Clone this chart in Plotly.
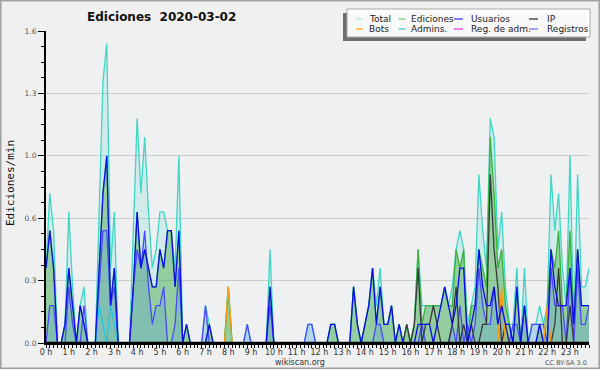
import plotly.graph_objects as go

# ---- data: edits per minute, one value per 10-minute slot (144 slots, 00:00 .. 23:50)
total = [
    0.4, 0.8, 0.6, 0, 0, 0.1,
    0.7, 0.3, 0, 0.2, 0.3, 0,
    0, 0, 0.7, 1.4, 1.6, 0.4,
    0.7, 0, 0, 0, 0, 0.6,
    1.2, 0.8, 1.1, 0.7, 0.4, 0.5,
    0.7, 0.7, 0.6, 0.6, 0.4, 1.0,
    0, 0.1, 0, 0, 0, 0,
    0.2, 0.1, 0, 0, 0, 0,
    0.3, 0, 0, 0, 0, 0.1,
    0, 0, 0, 0, 0, 0.5,
    0, 0, 0, 0, 0, 0,
    0, 0, 0, 0.1, 0.1, 0,
    0, 0, 0, 0.1, 0.1, 0,
    0, 0, 0, 0.3, 0.1, 0,
    0.1, 0.2, 0.4, 0.2, 0.4, 0.1,
    0.1, 0.2, 0, 0.1, 0, 0.1,
    0, 0.1, 0.5, 0.2, 0.2, 0.2,
    0.2, 0.2, 0.2, 0.3, 0.2, 0.3,
    0.5, 0.6, 0.5, 0.1, 0.2, 0.3,
    0.9, 0.6, 0.4, 1.2, 1.1, 0.5,
    0.7, 0.3, 0.1, 0.1, 0.4, 0,
    0.4, 0, 0.1, 0.1, 0.2, 0.1,
    0.2, 0.9, 0.6, 0.8, 0.4, 0.2,
    1.0, 0.1, 0.9, 0.3, 0.3, 0.4,
]
ediciones = [
    0.4, 0.6, 0.4, 0, 0, 0.1,
    0.4, 0.2, 0, 0.2, 0.1, 0,
    0, 0, 0.4, 0.8, 1.0, 0.2,
    0.4, 0, 0, 0, 0, 0.3,
    0.7, 0.4, 0.5, 0.4, 0.3, 0.3,
    0.5, 0.4, 0.6, 0.6, 0.3, 0.6,
    0, 0.1, 0, 0, 0, 0,
    0, 0.1, 0, 0, 0, 0,
    0.3, 0, 0, 0, 0, 0,
    0, 0, 0, 0, 0, 0.3,
    0, 0, 0, 0, 0, 0,
    0, 0, 0, 0, 0, 0,
    0, 0, 0, 0.1, 0.1, 0,
    0, 0, 0, 0.3, 0.1, 0,
    0.1, 0.2, 0.4, 0.1, 0.3, 0.1,
    0.1, 0.2, 0, 0.1, 0, 0.1,
    0, 0.1, 0.5, 0.1, 0.2, 0.2,
    0.2, 0.2, 0.2, 0.3, 0.2, 0.2,
    0.5, 0.4, 0.5, 0, 0.2, 0.2,
    0.5, 0.4, 0.3, 1.1, 0.8, 0.4,
    0.5, 0.2, 0.1, 0, 0.3, 0,
    0.2, 0, 0, 0, 0.1, 0,
    0.2, 0.5, 0.4, 0.6, 0.2, 0.2,
    0.6, 0.1, 0.5, 0.2, 0.2, 0.2,
]
usuarios = [
    0.4, 0.6, 0.4, 0, 0, 0.1,
    0.4, 0.2, 0, 0.2, 0.1, 0,
    0, 0, 0.4, 0.8, 1.0, 0.2,
    0.4, 0, 0, 0, 0, 0.3,
    0.7, 0.4, 0.5, 0.4, 0.3, 0.3,
    0.5, 0.4, 0.6, 0.6, 0.3, 0.6,
    0, 0.1, 0, 0, 0, 0,
    0, 0.1, 0, 0, 0, 0,
    0, 0, 0, 0, 0, 0,
    0, 0, 0, 0, 0, 0.3,
    0, 0, 0, 0, 0, 0,
    0, 0, 0, 0, 0, 0,
    0, 0, 0, 0.1, 0.1, 0,
    0, 0, 0, 0.3, 0.1, 0,
    0.1, 0.2, 0.4, 0.1, 0.3, 0.1,
    0.1, 0.2, 0, 0.1, 0, 0,
    0, 0, 0.1, 0.1, 0.1, 0.1,
    0, 0.1, 0.2, 0.3, 0.2, 0.1,
    0.2, 0.4, 0.4, 0, 0.1, 0.2,
    0.5, 0.3, 0.2, 0.2, 0.3, 0.1,
    0.2, 0.1, 0.1, 0, 0.3, 0,
    0.2, 0, 0, 0, 0.1, 0,
    0, 0.5, 0.3, 0.2, 0.2, 0.2,
    0.4, 0.1, 0.5, 0.2, 0.2, 0.2,
]
ip = [0] * 90 + [
    0, 0, 0, 0, 0, 0.1,
    0, 0.1, 0.4, 0, 0.1, 0.1,
    0.2, 0.1, 0, 0, 0, 0.1,
    0.3, 0, 0.1, 0, 0.1, 0,
    0, 0.1, 0.1, 0.9, 0.5, 0.3,
    0, 0.1, 0, 0, 0, 0,
    0, 0, 0, 0, 0, 0,
    0, 0, 0.1, 0.4, 0, 0,
    0.2, 0, 0, 0, 0, 0,
]
bots = [0] * 144
bots[48] = 0.3
bots[120] = 0.3
bots[132] = 0.2
admins = [0] * 144
admins[14:19] = [0.2, 0.1, 0, 0.2, 0.1]
reg_adm = [0] * 144
registros = [
    0, 0.2, 0.2, 0, 0, 0,
    0.3, 0.1, 0, 0, 0.2, 0,
    0, 0, 0.3, 0.6, 0.6, 0.2,
    0.3, 0, 0, 0, 0, 0.3,
    0.5, 0.4, 0.6, 0.3, 0.1, 0.2,
    0.2, 0.3, 0, 0, 0.1, 0.4,
    0, 0, 0, 0, 0, 0,
    0.2, 0, 0, 0, 0, 0,
    0, 0, 0, 0, 0, 0.1,
    0, 0, 0, 0, 0, 0.2,
    0, 0, 0, 0, 0, 0,
    0, 0, 0, 0.1, 0.1, 0,
    0, 0, 0, 0, 0, 0,
    0, 0, 0, 0, 0, 0,
    0, 0, 0, 0.1, 0.1, 0,
    0, 0, 0, 0, 0, 0,
    0, 0, 0, 0.1, 0, 0,
    0, 0, 0, 0, 0, 0.1,
    0, 0.2, 0, 0.1, 0, 0.1,
    0.4, 0.2, 0.1, 0.1, 0.3, 0.1,
    0.2, 0.1, 0, 0.1, 0.1, 0,
    0.2, 0, 0.1, 0.1, 0.1, 0.1,
    0, 0.4, 0.2, 0.2, 0.2, 0,
    0.4, 0, 0.4, 0.1, 0.1, 0.2,
]

hour_labels = [f"{h} h" for h in range(24)]
y_tick_vals = [0, 1 / 3, 2 / 3, 1, 4 / 3, 5 / 3]
y_tick_text = ["0.0", "0.3", "0.6", "1.0", "1.3", "1.6"]

legend_items = [
    ("Total", "#a8ecea"), ("Ediciones", "#80d080"), ("Usuarios", "#3c3cf0"), ("IP", "#333333"),
    ("Bots", "#ffa020"), ("Admins.", "#40d4e4"), ("Reg. de adm.", "#e040f0"), ("Registros", "#7878ff"),
]

# slot times in hours
hours = [i / 6 for i in range(len(total))]
x_end = hours[-1]

W, H = 600, 370
ML, MR, MT, MB = 46, 11, 31, 27
PW, PH = W - ML - MR, H - MT - MB


def px(x):
    return (x - ML) / PW


def py(y):
    return (H - MB - y) / PH


fig = go.Figure()


def area(y, fillcolor, linecolor, name):
    fig.add_trace(go.Scatter(x=hours, y=y, mode="lines", fill="tozeroy", fillcolor=fillcolor,
                             line=dict(color=linecolor, width=1.3), name=name, showlegend=False))


def line(y, color, name, width=1.3):
    fig.add_trace(go.Scatter(x=hours, y=y, mode="lines", line=dict(color=color, width=width),
                             name=name, showlegend=False))


area(total, "rgba(64,208,192,0.16)", "#3fd6c6", "Total")
area(ediciones, "rgba(70,170,70,0.45)", "#3cb43c", "Ediciones")
area(registros, "rgba(72,139,232,0.22)", "#4a4aff", "Registros")
line(reg_adm, "#e040f0", "Reg. de adm.")
line(ip, "#3a3a3a", "IP")
line(bots, "#ff9a10", "Bots")
line(admins, "#22c4e0", "Admins.")
line(usuarios, "#0c0cec", "Usuarios")

shapes = []
annotations = []

# black baseline over the zero level (hides lines resting on 0)
shapes.append(dict(type="line", xref="x", yref="y", x0=0, x1=x_end, y0=0, y1=0,
                   line=dict(color="#000", width=2.5), layer="above"))
# outer frame
shapes.append(dict(type="rect", xref="paper", yref="paper", x0=px(0.75), x1=px(599.25),
                   y0=py(0.75), y1=py(368.25), line=dict(color="#a0a0a0", width=1.5)))
# legend shadow + box
shapes.append(dict(type="rect", xref="paper", yref="paper", x0=px(343), x1=px(586),
                   y0=py(13), y1=py(41), fillcolor="#6e6e6e", line=dict(width=0), layer="above"))
shapes.append(dict(type="rect", xref="paper", yref="paper", x0=px(347), x1=px(590),
                   y0=py(9), y1=py(37), fillcolor="rgba(255,255,255,0.95)",
                   line=dict(color="#a8a8a8", width=1), layer="above"))
col_sw = [(356, 362.5), (398.5, 405.5), (454, 463), (529, 538)]
col_tx = [366.5, 408.5, 469, 545]
row_y = [19, 29]
for k, (name, color) in enumerate(legend_items):
    r, c = divmod(k, 4)
    shapes.append(dict(type="line", xref="paper", yref="paper", x0=px(col_sw[c][0]), x1=px(col_sw[c][1]),
                       y0=py(row_y[r]), y1=py(row_y[r]), line=dict(color=color, width=1.3), layer="above"))
    annotations.append(dict(xref="paper", yref="paper", x=px(col_tx[c]), y=py(row_y[r]), text=name,
                            showarrow=False, xanchor="left", yanchor="middle",
                            font=dict(family="DejaVu Sans", size=9, color="#222")))

annotations.append(dict(xref="paper", yref="paper", x=px(85), y=py(17), text="<b>Ediciones  2020-03-02</b>",
                        showarrow=False, xanchor="left", yanchor="middle",
                        font=dict(family="DejaVu Sans", size=12, color="#111")))
annotations.append(dict(xref="paper", yref="paper", x=px(10), y=py(183), text="Ediciones/min",
                        textangle=-90, showarrow=False, xanchor="center", yanchor="middle",
                        font=dict(family="DejaVu Sans Mono", size=11, color="#111")))
annotations.append(dict(xref="paper", yref="paper", x=px(300), y=py(362.5), text="wikiscan.org",
                        showarrow=False, xanchor="center", yanchor="middle",
                        font=dict(family="DejaVu Sans", size=8, color="#333")))
annotations.append(dict(xref="paper", yref="paper", x=px(589), y=py(363), text="CC BY-SA 3.0",
                        showarrow=False, xanchor="right", yanchor="middle",
                        font=dict(family="DejaVu Sans", size=6.5, color="#555")))

fig.update_layout(
    width=W, height=H, margin=dict(l=ML, r=MR, t=MT, b=MB, pad=0),
    paper_bgcolor="#f0f0f0", plot_bgcolor="#eef0f2",
    showlegend=False, shapes=shapes, annotations=annotations,
    font=dict(family="DejaVu Sans", size=8, color="#333"),
    xaxis=dict(range=[0, x_end], tickmode="array", tickvals=list(range(24)), ticktext=hour_labels,
               ticks="outside", ticklen=3, tickwidth=1, tickcolor="#000", showgrid=False, zeroline=False,
               showline=True, linecolor="#000", linewidth=2, ticklabelstandoff=-3,
               tickfont=dict(family="DejaVu Sans", size=8, color="#333"),
               minor=dict(tickmode="linear", tick0=0, dtick=1 / 6, ticks="outside", ticklen=3,
                          tickcolor="#000", showgrid=False)),
    yaxis=dict(range=[0, 5 / 3], tickmode="array", tickvals=y_tick_vals, ticktext=y_tick_text,
               ticks="outside", ticklen=6, tickwidth=1, tickcolor="#000", showgrid=True,
               gridcolor="#cbcbcb", gridwidth=1, zeroline=False, showline=True, linecolor="#000",
               linewidth=2, tickfont=dict(family="DejaVu Sans", size=7.5, color="#555"),
               minor=dict(tickmode="linear", tick0=0, dtick=1 / 12, ticks="outside", ticklen=3,
                          tickcolor="#000", showgrid=False)),
)

fig.write_html("out.html", config={"displayModeBar": False, "staticPlot": True},
               post_script="document.body.style.margin='0';document.body.style.overflow='hidden';")
